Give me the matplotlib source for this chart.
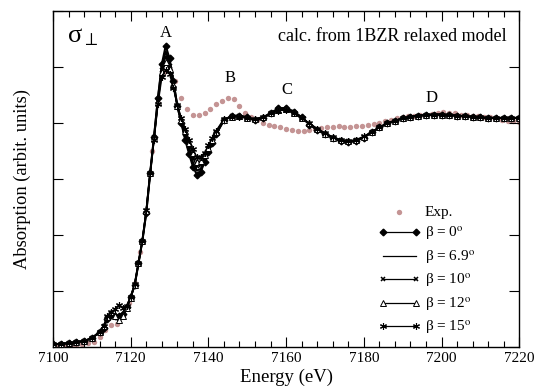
import numpy as np
import matplotlib
matplotlib.use("Agg")
import matplotlib.pyplot as plt
from matplotlib.ticker import MultipleLocator

plt.rcParams['font.family'] = ['Liberation Serif', 'DejaVu Serif']
plt.rcParams['mathtext.fontset'] = 'stix'

# ---- data ----
energy_calc = [7100, 7102, 7104, 7106, 7108, 7110, 7112,
               7113, 7114, 7115, 7116, 7117, 7118, 7119, 7120, 7121, 7122,
               7123, 7124, 7125, 7126, 7127, 7128, 7129, 7130, 7131, 7132,
               7133, 7134, 7135, 7136, 7137, 7138, 7139, 7140, 7141, 7142,
               7144, 7146, 7148, 7150, 7152, 7154, 7156, 7158, 7160, 7162,
               7164, 7166, 7168, 7170, 7172, 7174, 7176, 7178, 7180, 7182,
               7184, 7186, 7188, 7190, 7192, 7194, 7196, 7198, 7200, 7202,
               7204, 7206, 7208, 7210, 7212, 7214, 7216, 7218, 7220]

beta_0 = [0.05, 0.06, 0.07, 0.09, 0.11, 0.16, 0.27,
          0.35, 0.50, 0.57, 0.56, 0.55, 0.60, 0.72, 0.90, 1.10, 1.50,
          1.90, 2.40, 3.10, 3.75, 4.45, 5.05, 5.38, 5.15, 4.75, 4.30,
          4.00, 3.70, 3.45, 3.22, 3.08, 3.12, 3.30, 3.48, 3.65, 3.80,
          4.05, 4.13, 4.13, 4.10, 4.05, 4.08, 4.18, 4.26, 4.27, 4.20,
          4.10, 3.97, 3.87, 3.80, 3.73, 3.68, 3.66, 3.68, 3.74, 3.83,
          3.92, 3.99, 4.04, 4.08, 4.11, 4.13, 4.15, 4.15, 4.15, 4.14,
          4.13, 4.12, 4.11, 4.10, 4.09, 4.09, 4.09, 4.09, 4.09]

beta_6_9 = [0.05, 0.06, 0.07, 0.09, 0.11, 0.16, 0.27,
            0.36, 0.51, 0.58, 0.55, 0.53, 0.58, 0.71, 0.90, 1.10, 1.50,
            1.90, 2.40, 3.10, 3.75, 4.43, 5.00, 5.28, 5.08, 4.72, 4.30,
            4.02, 3.75, 3.52, 3.30, 3.15, 3.18, 3.33, 3.50, 3.66, 3.80,
            4.05, 4.12, 4.13, 4.10, 4.06, 4.08, 4.17, 4.25, 4.26, 4.20,
            4.10, 3.98, 3.88, 3.80, 3.73, 3.68, 3.66, 3.68, 3.74, 3.83,
            3.92, 3.99, 4.04, 4.08, 4.11, 4.13, 4.14, 4.15, 4.15, 4.14,
            4.13, 4.12, 4.11, 4.10, 4.09, 4.09, 4.09, 4.09, 4.09]

beta_10 = [0.05, 0.06, 0.07, 0.09, 0.11, 0.16, 0.27,
           0.37, 0.52, 0.60, 0.55, 0.50, 0.57, 0.70, 0.89, 1.10, 1.50,
           1.90, 2.42, 3.10, 3.75, 4.40, 4.95, 5.18, 5.02, 4.70, 4.30,
           4.04, 3.80, 3.58, 3.38, 3.23, 3.25, 3.38, 3.53, 3.68, 3.82,
           4.06, 4.12, 4.12, 4.09, 4.06, 4.09, 4.17, 4.24, 4.25, 4.19,
           4.09, 3.98, 3.88, 3.80, 3.73, 3.69, 3.67, 3.69, 3.75, 3.83,
           3.92, 3.99, 4.04, 4.08, 4.11, 4.13, 4.14, 4.15, 4.15, 4.14,
           4.13, 4.12, 4.11, 4.10, 4.09, 4.09, 4.09, 4.09, 4.09]

beta_12 = [0.05, 0.06, 0.07, 0.09, 0.11, 0.16, 0.27,
           0.38, 0.54, 0.63, 0.55, 0.48, 0.55, 0.69, 0.88, 1.10, 1.50,
           1.90, 2.43, 3.10, 3.73, 4.37, 4.90, 5.08, 4.96, 4.67, 4.31,
           4.06, 3.85, 3.64, 3.46, 3.31, 3.32, 3.42, 3.56, 3.70, 3.84,
           4.06, 4.11, 4.12, 4.09, 4.07, 4.10, 4.17, 4.23, 4.24, 4.18,
           4.09, 3.99, 3.89, 3.81, 3.74, 3.69, 3.67, 3.69, 3.75, 3.84,
           3.92, 3.99, 4.04, 4.08, 4.11, 4.13, 4.14, 4.15, 4.15, 4.14,
           4.13, 4.12, 4.11, 4.10, 4.09, 4.09, 4.09, 4.09, 4.09]

beta_15 = [0.05, 0.06, 0.07, 0.09, 0.11, 0.16, 0.27,
           0.38, 0.55, 0.62, 0.68, 0.76, 0.70, 0.74, 0.90, 1.12, 1.50,
           1.90, 2.45, 3.10, 3.70, 4.33, 4.82, 4.95, 4.88, 4.62, 4.32,
           4.09, 3.90, 3.70, 3.53, 3.39, 3.39, 3.47, 3.60, 3.73, 3.86,
           4.07, 4.11, 4.11, 4.08, 4.07, 4.11, 4.17, 4.22, 4.23, 4.17,
           4.08, 3.99, 3.90, 3.82, 3.75, 3.70, 3.68, 3.70, 3.76, 3.84,
           3.92, 3.99, 4.04, 4.08, 4.11, 4.13, 4.14, 4.15, 4.15, 4.14,
           4.13, 4.12, 4.11, 4.10, 4.09, 4.09, 4.09, 4.09, 4.09]

energy_exp = [7100.0 + 1.5 * k for k in range(81)]
exp_vals = [0.02, 0.02, 0.03, 0.03, 0.04, 0.05, 0.07, 0.10, 0.18, 0.30,
            0.40, 0.42, 0.55, 0.78, 1.15, 1.70, 2.40, 3.50, 4.35, 4.90,
            4.95, 4.75, 4.45, 4.25, 4.15, 4.14, 4.18, 4.25, 4.33, 4.40,
            4.45, 4.43, 4.30, 4.18, 4.10, 4.05, 4.00, 3.96, 3.94, 3.92,
            3.90, 3.88, 3.86, 3.86, 3.88, 3.90, 3.91, 3.92, 3.93, 3.94,
            3.93, 3.93, 3.94, 3.95, 3.96, 3.98, 4.00, 4.03, 4.06, 4.08,
            4.10, 4.12, 4.13, 4.14, 4.15, 4.16, 4.18, 4.19, 4.18, 4.17,
            4.15, 4.14, 4.13, 4.12, 4.11, 4.10, 4.08, 4.06, 4.04, 4.03,
            4.02]

labels = ['Exp.',
          'β = 0$^{\\rm o}$',
          'β = 6.9$^{\\rm o}$',
          'β = 10$^{\\rm o}$',
          'β = 12$^{\\rm o}$',
          'β = 15$^{\\rm o}$']
peak_labels = ['A', 'B', 'C', 'D']
peak_pos = [(7129, 5.47), (7145.5, 4.66), (7160.2, 4.44), (7197.5, 4.31)]

# ---- figure ----
fig = plt.figure(figsize=(5.34, 3.87), dpi=100)
ax = fig.add_axes([0.0993, 0.103, 0.873, 0.869])

ax.scatter(energy_exp, exp_vals, s=15, color='#c49494', linewidths=0,
           label=labels[0], zorder=1)

ax.plot(energy_calc, beta_0, color='black', lw=1.4, marker='D', markersize=3.4,
        label=labels[1], zorder=3)
ax.plot(energy_calc, beta_6_9, color='black', lw=1.5, label=labels[2], zorder=3)
ax.plot(energy_calc, beta_10, color='black', lw=1.1, marker='x', markersize=3.5,
        markeredgewidth=1.1, label=labels[3], zorder=3)
ax.plot(energy_calc, beta_12, color='black', lw=1.1, marker='^', markersize=3.8,
        markerfacecolor='white', markeredgewidth=0.7, label=labels[4], zorder=3)
ax.plot(energy_calc, beta_15, color='black', lw=1.1, marker=(6, 2, 0), markersize=5,
        markeredgewidth=0.8, label=labels[5], zorder=3)

ax.set_xlim(7100, 7220)
ax.set_ylim(0, 6)
ax.xaxis.set_major_locator(MultipleLocator(20))
ax.xaxis.set_minor_locator(MultipleLocator(4))
ax.yaxis.set_major_locator(MultipleLocator(1))
ax.set_yticklabels([])
ax.tick_params(which='both', direction='in', top=True, right=True, labelsize=11)
ax.tick_params(which='major', length=7, width=0.8)
ax.tick_params(which='minor', length=4, width=0.8)
for s in ax.spines.values():
    s.set_linewidth(1.0)

ax.set_xlabel('Energy (eV)', fontsize=13.5, labelpad=3)
ax.set_ylabel('Absorption (arbit. units)', fontsize=13.3, labelpad=12)

for lab, (x, y) in zip(peak_labels, peak_pos):
    ax.text(x, y, lab, fontsize=12, ha='center', va='bottom')

ax.text(0.03, 0.955, 'σ$_{\\perp}$', transform=ax.transAxes, fontsize=19,
        ha='left', va='top')
ax.text(0.727, 0.925, 'calc. from 1BZR relaxed model', transform=ax.transAxes,
        fontsize=13, ha='center', va='center')

leg = ax.legend(loc='upper left', bbox_to_anchor=(0.684, 0.44), frameon=False,
                numpoints=2, scatterpoints=1, handlelength=2.8, handletextpad=0.25,
                labelspacing=0.38, fontsize=11, borderaxespad=0)
for h in leg.get_lines():
    h.set_linewidth(0.9)

fig.savefig('out.png', dpi=100)
